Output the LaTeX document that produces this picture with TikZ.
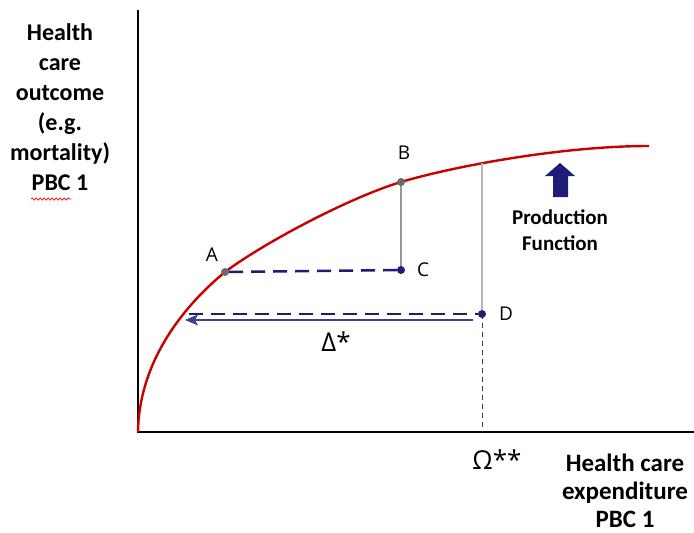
\documentclass[tikz,border=0pt]{standalone}
\usepackage{fontspec}
\setmainfont{Carlito}
\newfontfamily\ptfont{Open Sans}
\usetikzlibrary{arrows.meta, positioning, decorations.pathmorphing}
\definecolor{cred}{HTML}{C80000}
\definecolor{cnavy}{HTML}{1F1C78}
\definecolor{cgrey}{HTML}{6B6B6B}
\tikzset{
  every picture/.style={x=1pt, y=-1pt},
  axis/.style={draw=black, line width=2.6pt},
  prodcurve/.style={draw=cred, line width=2.4pt},
  gapline/.style={draw=cnavy, line width=2.6pt, dash pattern=on 14pt off 8pt},
  dropline/.style={draw=cgrey!70, line width=1.3pt},
  guideline/.style={draw=black!75, line width=1pt, dash pattern=on 5pt off 4pt},
  shiftarrow/.style={-{Stealth[length=13pt, width=11pt, inset=3pt]}, draw=cnavy!85, line width=1.4pt},
  dot/.style={circle, fill=#1, inner sep=0pt, minimum size=8pt},
  dot/.default=cgrey,
  ptlabel/.style={font=\ptfont\fontsize{19}{22}\selectfont, inner sep=1pt},
  greek/.style={font=\ptfont\fontsize{26}{30}\selectfont, inner sep=1pt},
  axislabel/.style={font=\bfseries\fontsize{24}{30}\selectfont, align=center},
  note/.style={font=\bfseries\fontsize{21}{26}\selectfont, align=center},
  spellwave/.style={draw=red, line width=0.7pt, decorate, decoration={snake, segment length=4pt, amplitude=1.2pt}},
}

\begin{document}
\begin{tikzpicture}
  \useasboundingbox (0,0) rectangle (694,533);
  % axes
  \coordinate (O) at (138,432);
  \coordinate (ytop) at (138,10);
  \coordinate (xend) at (694,432);
  \draw[axis] (ytop) -- (O) -- (xend);
  % production function
  \coordinate (Fend) at (649,146);
  \draw[prodcurve] (O) .. controls (139,365) and (179,310) .. (225,272)
    .. controls (265,242) and (351,197) .. (401,182)
    .. controls (451,167) and (560,146) .. (Fend);
  \coordinate (P) at (482,163);
  \coordinate (E) at (189,314);
  \coordinate (Dx) at (482,432);
  \coordinate (arrS) at (473,320);
  \coordinate (arrE) at (185,320);
  \draw[dropline] (401,182) -- (401,270);
  \draw[dropline, draw=cgrey!50] (P) -- (482,314);
  \draw[guideline] (482,314) -- (Dx);
  \node[dot] (A) at (225,272) {};
  \node[dot] (B) at (401,182) {};
  \node[dot=cnavy] (C) at (401,270) {};
  \node[dot=cnavy] (D) at (482,314) {};
  \draw[gapline] (A) -- (C);
  \draw[gapline] (E) -- (D);
  \draw[shiftarrow] (arrS) -- (arrE);
  \node[ptlabel] (lA) at (212,255) {A};
  \node[ptlabel] (lB) at (404,153) {B};
  \node[ptlabel] (lC) at (423,270) {C};
  \node[ptlabel] (lD) at (506,314) {D};
  \node[greek] (delta) at (336,342) {Δ*};
  \node[greek] (omega) at (497,460) {Ω**};
  % shift of the function
  \fill[cnavy] (560,163) -- (575,176) -- (568,176) -- (568,197) -- (553,197) -- (553,176) -- (545,176) -- cycle;
  \node[note] (pf) at (560,230) {Production\\Function};
  % axis titles
  \node[axislabel] (ylab) at (60,107) {Health\\care\\outcome\\(e.g.\\mortality)\\PBC 1};
  \node[axislabel, font=\bfseries\fontsize{25}{28}\selectfont] (xlab) at (625,491) {Health care\\expenditure\\PBC 1};
  \draw[spellwave] (31,199) -- (71,199);
\end{tikzpicture}
\end{document}
